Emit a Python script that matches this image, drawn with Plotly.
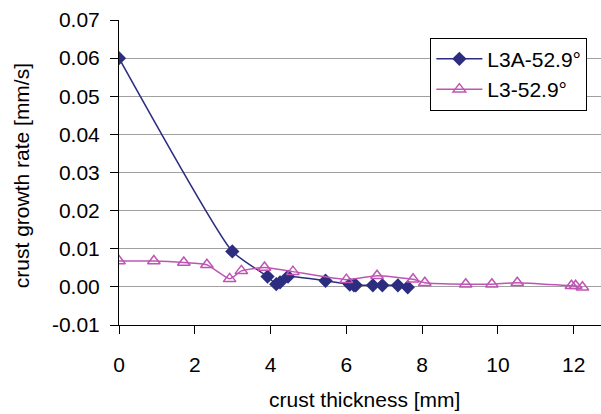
import plotly.graph_objects as go

# L3A-52.9° series
l3a_x = [0, 2.99, 3.92, 4.15, 4.25, 4.46, 5.45, 6.09, 6.2, 6.25, 6.7, 6.95, 7.36, 7.62]
l3a_y = [0.06, 0.0093, 0.0027, 0.0007, 0.0012, 0.0027, 0.0016, 0.0006, 0.0004, 0.0004,
         0.0004, 0.0004, 0.0004, -0.0001]

# L3-52.9° series
l3_x = [0, 0.92, 1.71, 2.32, 2.92, 3.23, 3.84, 4.59, 6.0, 6.81, 7.76, 8.07,
        9.15, 9.84, 10.51, 11.94, 12.05, 12.23]
l3_y = [0.0068, 0.0068, 0.0064, 0.0058, 0.0021, 0.0042, 0.0051, 0.0040, 0.0019, 0.0029,
        0.0020, 0.0011, 0.0007, 0.0007, 0.0011, 0.0003, 0.0003, -0.0001]

x_ticks = [0, 2, 4, 6, 8, 10, 12]
x_ticktext = ["0", "2", "4", "6", "8", "10", "12"]
y_ticks = [-0.01, 0.0, 0.01, 0.02, 0.03, 0.04, 0.05, 0.06, 0.07]
y_ticktext = ["-0.01", "0.00", "0.01", "0.02", "0.03", "0.04", "0.05", "0.06", "0.07"]

BLUE = "#2D2D80"
PINK = "#BE55B4"
FONT = "Liberation Sans, Arial, sans-serif"
FS = 21

fig = go.Figure()
fig.add_trace(go.Scatter(
    x=l3a_x, y=l3a_y, name="L3A-52.9°", mode="lines+markers",
    line=dict(color=BLUE, width=1.5, shape="spline", smoothing=0.5),
    marker=dict(symbol="diamond", size=11, color=BLUE, line=dict(width=0)),
))
fig.add_trace(go.Scatter(
    x=l3_x, y=l3_y, name="L3-52.9°", mode="lines+markers",
    line=dict(color=PINK, width=1.5, shape="spline", smoothing=0.5),
    marker=dict(symbol="triangle-up-open", size=11, color=PINK, line=dict(width=1.5, color=PINK)),
))

fig.update_layout(
    width=601, height=414,
    margin=dict(l=119, r=0, t=20, b=89),
    paper_bgcolor="white", plot_bgcolor="white",
    font=dict(family=FONT, size=FS, color="black"),
    showlegend=True,
    legend=dict(
        x=0.646, y=0.942, xanchor="left", yanchor="top",
        bgcolor="white", bordercolor="black", borderwidth=1,
        font=dict(family=FONT, size=FS, color="black"),
        tracegroupgap=0, itemwidth=46,
    ),
    xaxis=dict(
        range=[0, 12.72], tickvals=x_ticks, ticktext=x_ticktext,
        showgrid=False, zeroline=False,
        showline=True, linecolor="black", linewidth=1,
        ticks="outside", ticklen=8, tickcolor="black", tickwidth=1,
        ticklabelstandoff=13,
    ),
    yaxis=dict(
        range=[-0.01, 0.07], tickvals=y_ticks, ticktext=y_ticktext,
        showgrid=True, gridcolor="#A0A0A0", gridwidth=1, zeroline=False,
        showline=True, linecolor="black", linewidth=1,
        ticks="outside", ticklen=8, tickcolor="black", tickwidth=1,
        ticklabelstandoff=6,
    ),
    annotations=[
        dict(text="crust growth rate [mm/s]", xref="paper", yref="paper",
             x=-0.202, y=0.49, xanchor="center", yanchor="middle",
             textangle=-90, showarrow=False, font=dict(family=FONT, size=FS, color="black")),
        dict(text="crust thickness [mm]", xref="paper", yref="paper",
             x=0.51, y=-0.245, xanchor="center", yanchor="middle",
             showarrow=False, font=dict(family=FONT, size=FS, color="black")),
    ],
)

fig.write_html("out.html")
